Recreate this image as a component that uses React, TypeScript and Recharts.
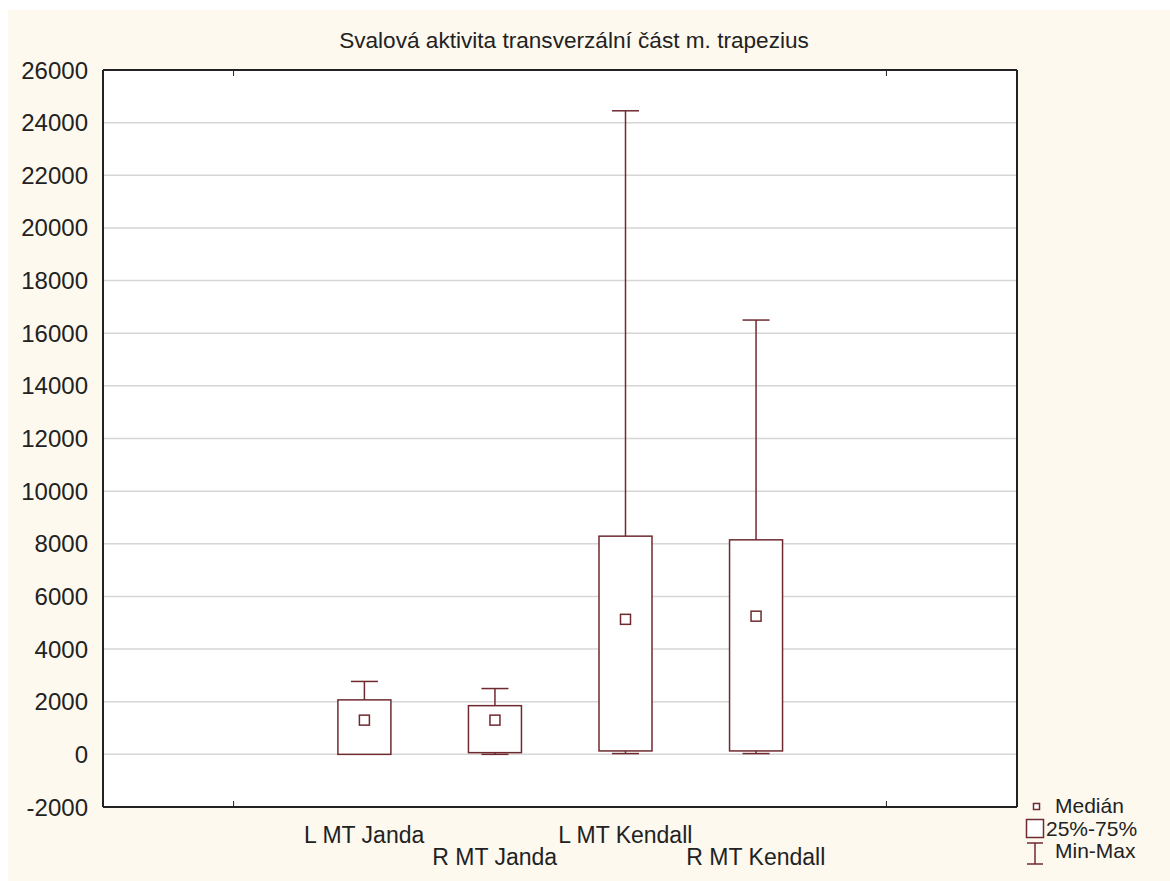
import { ComposedChart, Bar, XAxis, YAxis, CartesianGrid } from 'recharts'

const categories = ['L MT Janda', 'R MT Janda', 'L MT Kendall', 'R MT Kendall']
const minVals = [0, 0, 30, 30]
const q1Vals = [0, 65, 130, 130]
const medianVals = [1300, 1300, 5130, 5250]
const q3Vals = [2070, 1850, 8290, 8150]
const maxVals = [2770, 2500, 24450, 16500]

const yTicks = [-2000, 0, 2000, 4000, 6000, 8000, 10000, 12000, 14000, 16000, 18000, 20000, 22000, 24000, 26000]
const frameTicks = [1, 6]

const BOX_COLOR = '#6f2a30'
const FONT = '"Liberation Sans", Arial, sans-serif'

const data = categories.map((name, i) => ({
  name,
  min: minVals[i],
  q1: q1Vals[i],
  median: medianVals[i],
  q3: q3Vals[i],
  max: maxVals[i],
}))

// one range bar [min, max] per category; the shape draws whiskers, box and median
function BoxShape(props: any) {
  const { x, y, width, height, payload } = props
  if (!payload) return null
  const { min, q1, median, q3, max } = payload
  const py = (v: number) => y + (height * (max - v)) / (max - min)
  const cx = x + width / 2
  const cap = 27
  const m = 10
  return (
    <g>
      <line x1={cx} x2={cx} y1={py(max)} y2={py(min)} stroke={BOX_COLOR} strokeWidth={1.5} />
      <line x1={cx - cap / 2} x2={cx + cap / 2} y1={py(max)} y2={py(max)} stroke={BOX_COLOR} strokeWidth={1.5} />
      {min < q1 && (
        <line x1={cx - cap / 2} x2={cx + cap / 2} y1={py(min)} y2={py(min)} stroke={BOX_COLOR} strokeWidth={1.5} />
      )}
      <rect x={x} y={py(q3)} width={width} height={py(q1) - py(q3)} fill="#fff" stroke={BOX_COLOR} strokeWidth={1.5} />
      <rect x={cx - m / 2} y={py(median) - m / 2} width={m} height={m} fill="#fff" stroke={BOX_COLOR} strokeWidth={1.5} />
    </g>
  )
}

function CategoryTick(props: any) {
  const { x, y, payload, index } = props
  return (
    <text x={x} y={y + (index % 2 === 0 ? 28 : 50)} textAnchor="middle" fontSize={23} fontFamily={FONT} fill="#222">
      {payload.value}
    </text>
  )
}

export default function App() {
  return (
    <div style={{ position: 'absolute', left: 8, top: 10, width: 1162, height: 871, background: '#fdf9ef', fontFamily: FONT }}>
      <div
        style={{
          position: 'absolute',
          left: 266,
          width: 600,
          top: 19,
          textAlign: 'center',
          fontSize: 22.6,
          lineHeight: '23px',
          color: '#222',
        }}
      >
        Svalová aktivita transverzální část m. trapezius
      </div>

      <ComposedChart width={1162} height={871} data={data} margin={{ top: 60, right: 153, bottom: 14, left: 10 }}>
        <CartesianGrid xAxisId="cat" yAxisId="val" vertical={false} stroke="#d6d6d6" strokeWidth={1.5} fill="#fff" />
        <XAxis
          xAxisId="cat"
          dataKey="name"
          type="category"
          padding={{ left: 195.9, right: 195.9 }}
          height={60}
          tickLine={false}
          axisLine={{ stroke: '#222', strokeWidth: 2 }}
          tick={<CategoryTick />}
          interval={0}
        />
        <XAxis
          xAxisId="bottomTicks"
          type="number"
          dataKey={() => 3.5}
          domain={[0, 7]}
          allowDataOverflow
          ticks={frameTicks}
          orientation="bottom"
          mirror
          axisLine={false}
          tickSize={6}
          tickLine={{ stroke: '#222' }}
          tickFormatter={() => ''}
        />
        <XAxis
          xAxisId="top"
          type="number"
          dataKey={() => 3.5}
          domain={[0, 7]}
          allowDataOverflow
          ticks={frameTicks}
          orientation="top"
          mirror
          axisLine={{ stroke: '#222', strokeWidth: 2 }}
          tickSize={6}
          tickLine={{ stroke: '#222' }}
          tickFormatter={() => ''}
        />
        <YAxis
          yAxisId="val"
          type="number"
          domain={[-2000, 26000]}
          ticks={yTicks}
          width={85}
          tickLine={false}
          tickSize={6}
          tickMargin={9}
          axisLine={{ stroke: '#222', strokeWidth: 2 }}
          tick={{ fontSize: 24, fontFamily: FONT, fill: '#222' }}
          interval={0}
        />
        <YAxis
          yAxisId="leftInner"
          type="number"
          domain={[-2000, 26000]}
          ticks={yTicks}
          orientation="left"
          mirror
          axisLine={false}
          tickSize={5}
          tickLine={{ stroke: '#222' }}
          tickFormatter={() => ''}
        />
        <YAxis
          yAxisId="right"
          type="number"
          domain={[-2000, 26000]}
          ticks={yTicks}
          orientation="right"
          mirror
          axisLine={{ stroke: '#222', strokeWidth: 2 }}
          tickSize={5}
          tickLine={{ stroke: '#222' }}
          tickFormatter={() => ''}
        />
        <Bar
          xAxisId="cat"
          yAxisId="val"
          dataKey={(d: any) => [d.min, d.max]}
          barSize={53}
          shape={<BoxShape />}
          isAnimationActive={false}
        />
      </ComposedChart>

      <svg style={{ position: 'absolute', left: 1010, top: 780 }} width={152} height={91}>
        <rect x={15.5} y={13.5} width={6} height={6} fill="#fff" stroke={BOX_COLOR} strokeWidth={1.5} />
        <text x={37} y={23} fontSize={21} fontFamily={FONT} fill="#222">Medián</text>
        <rect x={8.5} y={29.5} width={17} height={18} fill="#fff" stroke={BOX_COLOR} strokeWidth={1.5} />
        <text x={28} y={45.5} fontSize={21} fontFamily={FONT} fill="#222">25%-75%</text>
        <line x1={17} x2={17} y1={53} y2={74} stroke={BOX_COLOR} strokeWidth={1.5} />
        <line x1={9} x2={25} y1={53} y2={53} stroke={BOX_COLOR} strokeWidth={1.5} />
        <line x1={9} x2={25} y1={74} y2={74} stroke={BOX_COLOR} strokeWidth={1.5} />
        <text x={37} y={68} fontSize={21} fontFamily={FONT} fill="#222">Min-Max</text>
      </svg>
    </div>
  )
}
